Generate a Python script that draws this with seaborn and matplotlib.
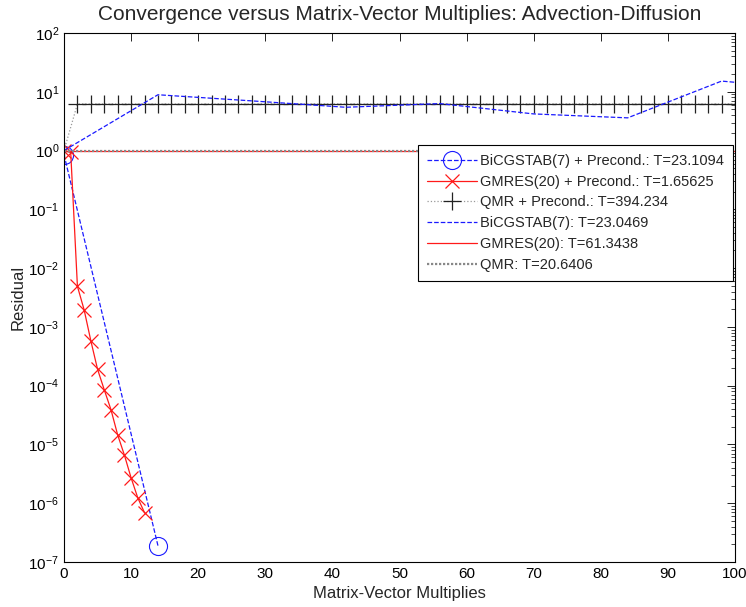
import numpy as np
import pandas as pd
import matplotlib
matplotlib.use("Agg")
import matplotlib.pyplot as plt
import seaborn as sns
from matplotlib.ticker import LogLocator, NullFormatter, MultipleLocator

# ---- data ----
bicg_p_x = [0, 14]
bicg_p_y = [0.85, 1.9e-7]

gmres_p_x = [0, 1, 2, 3, 4, 5, 6, 7, 8, 9, 10, 11, 12]
gmres_p_y = [1.0, 0.93, 4.9e-3, 1.95e-3, 5.8e-4, 1.9e-4, 8.5e-5, 3.9e-5,
             1.45e-5, 6.6e-6, 2.7e-6, 1.23e-6, 6.9e-7]

qmr_p_x = [0] + list(range(2, 101, 2))
qmr_p_y = [1.0] + [6.2] * 50

bicg_x = [0, 14, 28, 42, 56, 70, 84, 98, 100]
bicg_y = [1.0, 8.9, 7.0, 5.45, 6.3, 4.2, 3.6, 15.2, 14.5]

gmres_x = [0, 100]
gmres_y = [1.0, 1.0]

qmr_x = [0, 100]
qmr_y = [1.0, 1.0]

labels = ["BiCGSTAB(7) + Precond.: T=23.1094",
          "GMRES(20) + Precond.: T=1.65625",
          "QMR + Precond.: T=394.234",
          "BiCGSTAB(7): T=23.0469",
          "GMRES(20): T=61.3438",
          "QMR: T=20.6406"]

title = "Convergence versus Matrix-Vector Multiplies: Advection-Diffusion"
xlabel = "Matrix-Vector Multiplies"
ylabel = "Residual"

# ---- style ----
sns.set_style("white")
plt.rcParams['font.family'] = ['Liberation Sans', 'DejaVu Sans']
plt.rcParams['mathtext.fontset'] = 'custom'
plt.rcParams['mathtext.rm'] = 'Liberation Sans'
plt.rcParams['mathtext.it'] = 'Liberation Sans'

fig = plt.figure(figsize=(7.46, 6.07), dpi=100)
ax = fig.add_axes([64/746, 1-562/607, (735-64)/746, (562-33)/607])

blue = '#1a1aff'
red = '#ff1a1a'

sns.lineplot(x=bicg_p_x, y=bicg_p_y, ax=ax, color=blue, linestyle='--', lw=0.9,
             marker='o', markersize=13, markerfacecolor='none', markeredgecolor=blue,
             markeredgewidth=0.8, label=labels[0])
sns.lineplot(x=gmres_p_x, y=gmres_p_y, ax=ax, color=red, linestyle='-', lw=0.9,
             marker='x', markersize=10, markeredgecolor=red, markeredgewidth=0.9,
             label=labels[1])
sns.lineplot(x=qmr_p_x, y=qmr_p_y, ax=ax, color='#999999', linestyle=':', lw=0.9,
             marker='+', markersize=13, markeredgecolor='#222222', markeredgewidth=0.9,
             label=labels[2])
sns.lineplot(x=bicg_x, y=bicg_y, ax=ax, color=blue, linestyle='--', lw=0.9,
             label=labels[3])
sns.lineplot(x=gmres_x, y=gmres_y, ax=ax, color=red, linestyle='-', lw=0.9,
             label=labels[4])
sns.lineplot(x=qmr_x, y=qmr_y, ax=ax, color='#888888', linestyle=(0, (1, 0.8)), lw=1.6,
             label=labels[5])

ax.set_yscale('log')
ax.set_xlim(0, 100)
ax.set_ylim(1e-7, 1e2)
ax.xaxis.set_major_locator(MultipleLocator(10))
ax.yaxis.set_major_locator(LogLocator(base=10, numticks=20))
ax.yaxis.set_minor_locator(LogLocator(base=10, subs=np.arange(2, 10), numticks=20))
ax.yaxis.set_minor_formatter(NullFormatter())

ax.tick_params(axis='both', which='both', direction='in', top=True, right=True,
               labelsize=11, colors='black')
ax.tick_params(which='major', length=6, width=0.6)
ax.tick_params(which='minor', length=3, width=0.5)
for s in ax.spines.values():
    s.set_color('black')
    s.set_linewidth(0.8)

ax.set_title(title, fontsize=15, pad=9)
ax.set_xlabel(xlabel, fontsize=12, labelpad=4)
ax.set_ylabel(ylabel, fontsize=12, labelpad=2)

leg = ax.legend(loc='upper right', fontsize=10.5, handlelength=3.4,
                frameon=True, fancybox=False, framealpha=1, edgecolor='black',
                borderpad=0.6, labelspacing=0.47, handletextpad=0.25, borderaxespad=0)
leg.get_frame().set_linewidth(0.8)
leg.set_bbox_to_anchor((733/746, 1-145/607), transform=fig.transFigure)

fig.savefig("out.png", dpi=100)
